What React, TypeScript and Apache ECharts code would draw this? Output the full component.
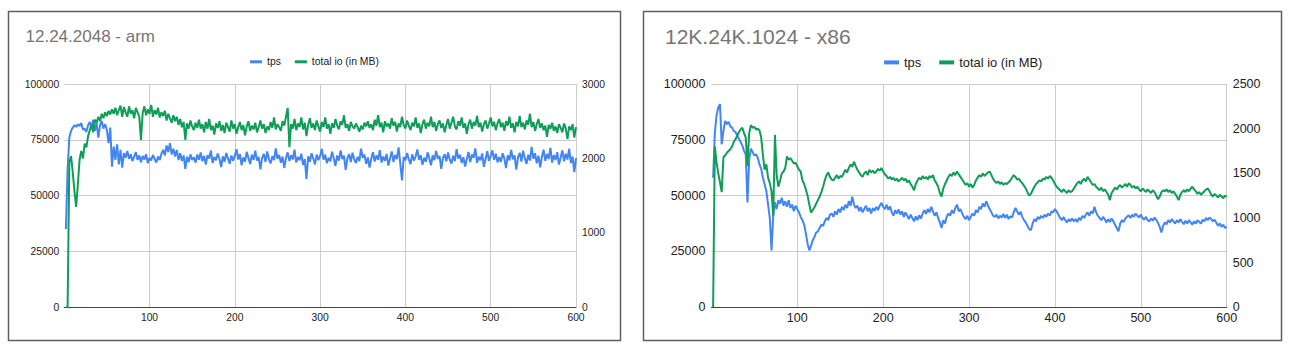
import React, { useEffect, useRef } from "react";
import * as echarts from "echarts";

const FONT = "'Liberation Sans', Arial, sans-serif";

const TITLES = ["12.24.2048 - arm", "12K.24K.1024 - x86"];
const SERIES_NAMES = ["tps", "total io (in MB)"];
const X_START = 2;
const X_STEP = 2;

// left chart (x = 2, 4, ... 600)
const LEFT_TPS = [
  35000, 62000, 76000, 79000, 80500, 81500, 80800, 82000, 81200, 82500,
  79500, 80000, 78500, 81500, 83000, 80500, 84000, 79000, 82500, 76000,
  81500, 83500, 80000, 82000, 79500, 73500, 80500, 63000, 72000, 66000,
  73000, 64000, 70500, 62500, 69000, 67000, 70000, 66500, 68500, 65500,
  67500, 69500, 66000, 68000, 65000, 67800, 66200, 68500, 64500, 67000,
  65800, 68200, 66500, 64800, 67500, 66000, 68800, 70500, 68000, 72500,
  69500, 73500, 68500, 71000, 67500, 70500, 66000, 69000, 65500, 68000,
  62000, 67500, 65000, 68500, 66000, 67200, 64800, 68400, 66100, 69300,
  65400, 67800, 63900, 68100, 66600, 70200, 64600, 67300, 65800, 68900,
  66400, 62800, 67600, 65200, 69100, 66700, 64300, 68000, 65600, 67900,
  70800, 66200, 68600, 63600, 67100, 65300, 69600, 66900, 64100, 68300,
  66000, 70100, 65700, 67400, 61800, 66800, 68700, 65100, 69800, 66300,
  64400, 67700, 65900, 71200, 66500, 68200, 64700, 67500, 62400, 66900,
  69400, 65500, 68100, 66200, 70600, 64900, 67300, 65800, 68800, 63700,
  66400, 57500, 67600, 65200, 69000, 66600, 64000, 68400, 65900, 67800,
  70900, 66100, 68300, 64500, 67000, 65400, 69700, 66800, 63300, 68000,
  65700, 70300, 66400, 67900, 61500, 66700, 68600, 65000, 69200, 66300,
  64600, 67400, 65500, 71000, 66900, 68400, 64200, 67100, 62600, 66500,
  69500, 65300, 68000, 66000, 70400, 64800, 67500, 65600, 68700, 63500,
  66600, 69800, 65100, 68200, 66400, 71600, 64300, 56800, 67300, 65800,
  69100, 66200, 64100, 68500, 65700, 67600, 70700, 66000, 68100, 63800,
  67000, 65200, 69400, 66700, 63600, 68000, 65900, 70000, 66500, 67800,
  62000, 66800, 68600, 65400, 69300, 66100, 64400, 67900, 65500, 70800,
  66600, 68300, 64600, 67200, 63000, 66300, 69600, 65000, 68400, 66900,
  71200, 64700, 67400, 65800, 68900, 62900, 66400, 69900, 65600, 67700,
  70300, 66000, 68800, 64900, 67300, 65100, 69000, 66700, 62300, 68100,
  65800, 70500, 66300, 68000, 61700, 67100, 69200, 65300, 70100, 66800,
  64200, 68300, 65700, 71800, 66500, 69000, 64500, 67900, 62700, 67300,
  70600, 65600, 68700, 66400, 71400, 64800, 68200, 66000, 69500, 63900,
  67000, 70300, 65400, 68800, 66200, 71000, 64600, 67500, 60500, 66800,
];

const LEFT_IO = [
  0, 0, 1950, 2030, 1820, 1560, 1350, 1650, 1980, 2100,
  2000, 2200, 2150, 2300, 2380, 2450, 2350, 2520, 2480, 2560,
  2500, 2600, 2540, 2620, 2570, 2640, 2590, 2660, 2600, 2680,
  2580, 2650, 2710, 2560, 2690, 2620, 2560, 2700, 2600, 2650,
  2540, 2680, 2620, 2560, 2250, 2610, 2700, 2580, 2660, 2600,
  2720, 2560, 2650, 2590, 2680, 2550, 2620, 2570, 2640, 2510,
  2600, 2540, 2480, 2580, 2500, 2560, 2450, 2530, 2420, 2490,
  2250, 2470, 2400, 2510, 2430, 2380, 2480, 2410, 2520, 2400,
  2460, 2350, 2490, 2400, 2530, 2380, 2440, 2320, 2470, 2410,
  2500, 2370, 2450, 2340, 2480, 2420, 2360, 2510, 2400, 2460,
  2330, 2420, 2490, 2380, 2450, 2310, 2430, 2500, 2370, 2440,
  2390, 2480, 2350, 2420, 2510, 2400, 2460, 2340, 2430, 2380,
  2490, 2410, 2550, 2390, 2460, 2420, 2370, 2500, 2440, 2560,
  2680, 2150, 2460, 2400, 2530, 2380, 2470, 2420, 2550, 2390,
  2480, 2300, 2450, 2540, 2410, 2470, 2380, 2510, 2430, 2360,
  2490, 2420, 2550, 2400, 2460, 2330, 2470, 2410, 2530, 2440,
  2390, 2500, 2450, 2580, 2410, 2460, 2370, 2490, 2430, 2400,
  2470, 2420, 2360, 2440, 2390, 2480, 2430, 2500, 2410, 2460,
  2380, 2520, 2440, 2580, 2420, 2480, 2350, 2500, 2430, 2470,
  2400, 2540, 2440, 2490, 2360, 2470, 2420, 2560, 2450, 2400,
  2510, 2440, 2380, 2480, 2430, 2550, 2410, 2470, 2340, 2460,
  2520, 2400, 2480, 2430, 2560, 2420, 2490, 2370, 2460, 2510,
  2410, 2470, 2350, 2450, 2530, 2400, 2480, 2560, 2430, 2390,
  2500, 2440, 2550, 2410, 2470, 2330, 2460, 2520, 2400, 2490,
  2440, 2570, 2420, 2480, 2360, 2460, 2510, 2400, 2470, 2550,
  2430, 2490, 2380, 2470, 2530, 2420, 2480, 2370, 2500, 2440,
  2560, 2410, 2470, 2350, 2490, 2430, 2570, 2420, 2480, 2390,
  2510, 2450, 2600, 2420, 2490, 2370, 2460, 2530, 2410, 2470,
  2380, 2440, 2290, 2450, 2400, 2480, 2370, 2430, 2340, 2460,
  2410, 2350, 2470, 2400, 2260, 2430, 2380, 2460, 2280, 2420,
];

// right chart (x = 2, 4, ... 600)
const RIGHT_TPS = [
  58000, 78000, 86000, 89500, 91000, 73000, 79000, 83500, 82000, 83000,
  81000, 80500, 79000, 78500, 77000, 75500, 74000, 72500, 70000, 68500,
  47000, 66000, 71000, 69500, 68000, 68500, 67000, 64000, 62000, 58000,
  55000, 52000, 46000, 40000, 25500, 41000, 47000, 44000, 48000, 46500,
  49000, 45500, 47500, 45000, 48000, 44500, 46000, 43000, 45500, 44000,
  42500, 40500, 39000, 37000, 33000, 28500, 25500, 27500, 30000, 31500,
  33500, 34000, 35500, 37000, 36500, 38500, 40000, 39000, 41500, 42000,
  40500, 43000, 41500, 44000, 42500, 45000, 43500, 46000, 44500, 47500,
  45500, 49500, 46000, 44500, 45500, 43000, 44800, 42500, 44000, 45500,
  43000, 44500, 42000, 44500, 43200, 45000, 43500, 45500, 46800, 45000,
  44000, 46000, 43600, 45200, 42500, 41000, 43500, 42000, 43800, 41500,
  43000, 40500, 42500, 41000, 39500, 41500, 40000, 38500, 40800, 39000,
  41200, 39800, 42000, 43500, 41800, 44000, 42500, 45000, 43000, 41000,
  42500, 40000, 38000, 35500, 39000, 37500, 40500, 42000, 41000, 43500,
  42000, 44500, 46000, 43000, 44000, 42000, 40500, 39500, 41000, 39000,
  40500, 42000, 41000, 43500, 42500, 45000, 44000, 46500, 45000, 47500,
  45500, 44000, 42500, 41000, 40500, 41500, 39800, 41000, 40200, 41800,
  40000, 41500, 39500, 40800, 40200, 42500, 44500, 43000, 41500, 42800,
  40500, 39000, 38000, 36500, 35000, 34500, 37500, 39500, 38500, 40500,
  39500, 41000, 40000, 41500, 40500, 42000, 41000, 43000, 42500, 44000,
  43000, 41500, 40000, 39000, 40500, 39000, 38000, 39500, 38500, 39800,
  38500, 39500, 38200, 40000, 39000, 41000, 40000, 41500, 42500, 41000,
  43000, 42000, 45000, 42500, 41000, 40000, 39000, 40500, 39500, 38000,
  39500, 38200, 39800, 38500, 37000, 35500, 34000, 37500, 39000, 38200,
  39800, 40500, 41200, 40000, 41500, 40500, 42000, 41000, 40200, 41500,
  40000, 39200, 40500, 39000, 38500, 39800, 38800, 40200, 39200, 37800,
  36000, 33500, 36500, 38000, 37200, 39000, 38000, 39500, 38500, 37500,
  39000, 38000, 39500, 38200, 37200, 38800, 37500, 39000, 38000, 37000,
  38500, 37500, 39000, 38200, 37500, 39200, 38500, 40000, 39000, 40200,
  39500, 38500, 39200, 37800, 36500, 37500, 36000, 37000, 35500, 36000,
];

const RIGHT_IO = [
  0, 1800, 1620, 1500, 1400, 1290, 1680, 1700, 1730, 1750,
  1770, 1800, 1850, 1880, 1920, 1960, 1990, 2010, 1950, 1900,
  1580, 1950, 2040, 2010, 2020, 1990, 2000, 1980, 1900, 1700,
  1540, 1600, 1450, 1390, 1300, 1020, 1930, 1480, 1350, 1420,
  1500, 1520, 1560, 1690, 1650, 1670, 1640, 1610, 1620, 1580,
  1540, 1520, 1420, 1380, 1320, 1250, 1150, 1060, 1090, 1120,
  1160, 1200, 1240, 1290, 1350, 1420, 1480, 1510, 1460, 1430,
  1420, 1450, 1480, 1440, 1470, 1460, 1500, 1540, 1510, 1560,
  1600, 1570, 1630, 1580, 1540, 1510, 1480, 1460, 1500, 1520,
  1480, 1540, 1510, 1530, 1500, 1520, 1550, 1530, 1560, 1520,
  1490, 1470, 1440, 1460, 1430, 1450, 1420, 1440, 1410, 1430,
  1450, 1420, 1440, 1400, 1420, 1380, 1350, 1310, 1380, 1420,
  1450, 1430, 1470, 1440, 1460, 1430, 1470, 1450, 1480, 1420,
  1390, 1350, 1280, 1240, 1330, 1380, 1420, 1460, 1490, 1470,
  1510, 1480, 1520, 1490, 1460, 1430, 1400, 1370, 1390, 1350,
  1380, 1340, 1370, 1420, 1450, 1480, 1460, 1500, 1470, 1490,
  1510, 1520, 1480, 1440, 1410, 1390, 1410, 1380, 1400, 1370,
  1390, 1380, 1400, 1420, 1450, 1480, 1460, 1430, 1440, 1410,
  1390, 1360, 1330, 1290, 1250, 1270, 1310, 1350, 1380, 1400,
  1420, 1410, 1440, 1430, 1460, 1440, 1470, 1450, 1420, 1380,
  1350, 1330, 1310, 1290, 1320, 1300, 1280, 1310, 1290, 1300,
  1330, 1360, 1390, 1410, 1380, 1420, 1440, 1410, 1460, 1430,
  1400, 1370, 1380, 1350, 1330, 1310, 1340, 1300, 1320, 1290,
  1260, 1200, 1280, 1310, 1340, 1320, 1350, 1370, 1340, 1360,
  1380, 1350, 1390, 1370, 1340, 1360, 1330, 1350, 1320, 1300,
  1330, 1310, 1290, 1320, 1300, 1280, 1310, 1290, 1250, 1210,
  1240, 1290, 1310, 1300, 1320, 1290, 1310, 1280, 1300, 1270,
  1240, 1200, 1260, 1290, 1310, 1290, 1320, 1300, 1330, 1350,
  1320, 1300, 1270, 1290, 1260, 1280, 1300, 1320, 1330, 1300,
  1260, 1240, 1270, 1250, 1230, 1260, 1240, 1220, 1250, 1240,
];

const BLUE = "#4285F4";
const GREEN = "#0F9D58";

const toPairs = (vals: number[]) => vals.map((v, i) => [X_START + i * X_STEP, v]);
const plain = (v: number) => String(v);

function xAxisFor(gridIndex: number, fontSize: number, margin: number) {
  return {
    type: "value",
    gridIndex,
    min: 0,
    max: 600,
    interval: 100,
    axisLine: { show: true, onZero: false, lineStyle: { color: "#444", width: 1 } },
    axisTick: { show: false },
    axisLabel: { showMinLabel: false, color: "#222", fontSize, fontFamily: FONT, margin, formatter: plain },
    splitLine: { show: true, showMinLine: false, lineStyle: { color: "#ccc", width: 1 } },
  };
}

function yAxisFor(
  gridIndex: number,
  position: "left" | "right",
  max: number,
  interval: number,
  fontSize: number,
  margin: number,
  grid: boolean
) {
  return {
    type: "value",
    gridIndex,
    position,
    min: 0,
    max,
    interval,
    axisLine: { show: false },
    axisTick: { show: false },
    axisLabel: { color: "#222", fontSize, fontFamily: FONT, margin, formatter: plain },
    splitLine: { show: grid, lineStyle: { color: "#ccc", width: 1 } },
  };
}

function lineSeries(name: string, xi: number, yi: number, vals: number[], color: string) {
  return {
    name,
    type: "line",
    xAxisIndex: xi,
    yAxisIndex: yi,
    data: toPairs(vals),
    showSymbol: false,
    symbol: "none",
    lineStyle: { color, width: 2 },
    itemStyle: { color },
    emphasis: { disabled: true },
  };
}

export default function App() {
  const ref = useRef<HTMLDivElement>(null);
  useEffect(() => {
    if (!ref.current) return;
    const chart = echarts.init(ref.current, null, { renderer: "svg" });
    chart.setOption({
      animation: false,
      textStyle: { fontFamily: FONT },
      title: [
        {
          text: TITLES[0],
          left: 25.5,
          top: 28.1,
          padding: 0,
          textStyle: { fontSize: 17, fontWeight: "normal", color: "#757575", fontFamily: FONT },
        },
        {
          text: TITLES[1],
          left: 665,
          top: 26.1,
          padding: 0,
          textStyle: { fontSize: 21, fontWeight: "normal", color: "#757575", fontFamily: FONT },
        },
      ],
      legend: [
        {
          data: SERIES_NAMES,
          left: 250,
          top: 56.8,
          padding: 0,
          itemWidth: 12,
          itemHeight: 3,
          itemGap: 14,
          icon: "rect",
          selectedMode: false,
          textStyle: { fontSize: 10.4, color: "#222", fontFamily: FONT },
        },
        {
          data: SERIES_NAMES,
          left: 884,
          top: 55.9,
          padding: 0,
          itemWidth: 15,
          itemHeight: 4,
          itemGap: 18,
          icon: "rect",
          selectedMode: false,
          textStyle: { fontSize: 12.9, color: "#222", fontFamily: FONT },
        },
      ],
      graphic: [
        {
          type: "rect",
          shape: { x: 8.5, y: 11.5, width: 612, height: 329 },
          style: { fill: "none", stroke: "#5f5f5f", lineWidth: 1.5 },
          silent: true,
        },
        {
          type: "rect",
          shape: { x: 643.5, y: 11.5, width: 638, height: 329 },
          style: { fill: "none", stroke: "#5f5f5f", lineWidth: 1.5 },
          silent: true,
        },
      ],
      grid: [
        { left: 64.2, top: 84, width: 511.8, height: 223.3 },
        { left: 711.4, top: 84, width: 515.3, height: 223.3 },
      ],
      xAxis: [xAxisFor(0, 10.3, 5), xAxisFor(1, 12.5, 4)],
      yAxis: [
        yAxisFor(0, "left", 100000, 25000, 10.3, 5, true),
        yAxisFor(0, "right", 3000, 1000, 10.3, 6, false),
        yAxisFor(1, "left", 100000, 25000, 12.5, 6, true),
        yAxisFor(1, "right", 2500, 500, 12.5, 6, false),
      ],
      series: [
        lineSeries(SERIES_NAMES[0], 0, 0, LEFT_TPS, BLUE),
        lineSeries(SERIES_NAMES[1], 0, 1, LEFT_IO, GREEN),
        lineSeries(SERIES_NAMES[0], 1, 2, RIGHT_TPS, BLUE),
        lineSeries(SERIES_NAMES[1], 1, 3, RIGHT_IO, GREEN),
      ],
    });
    return () => chart.dispose();
  }, []);
  return (
    <div
      ref={ref}
      style={{ position: "absolute", left: 0, top: 0, width: 1295, height: 355, background: "#fff" }}
    />
  );
}
